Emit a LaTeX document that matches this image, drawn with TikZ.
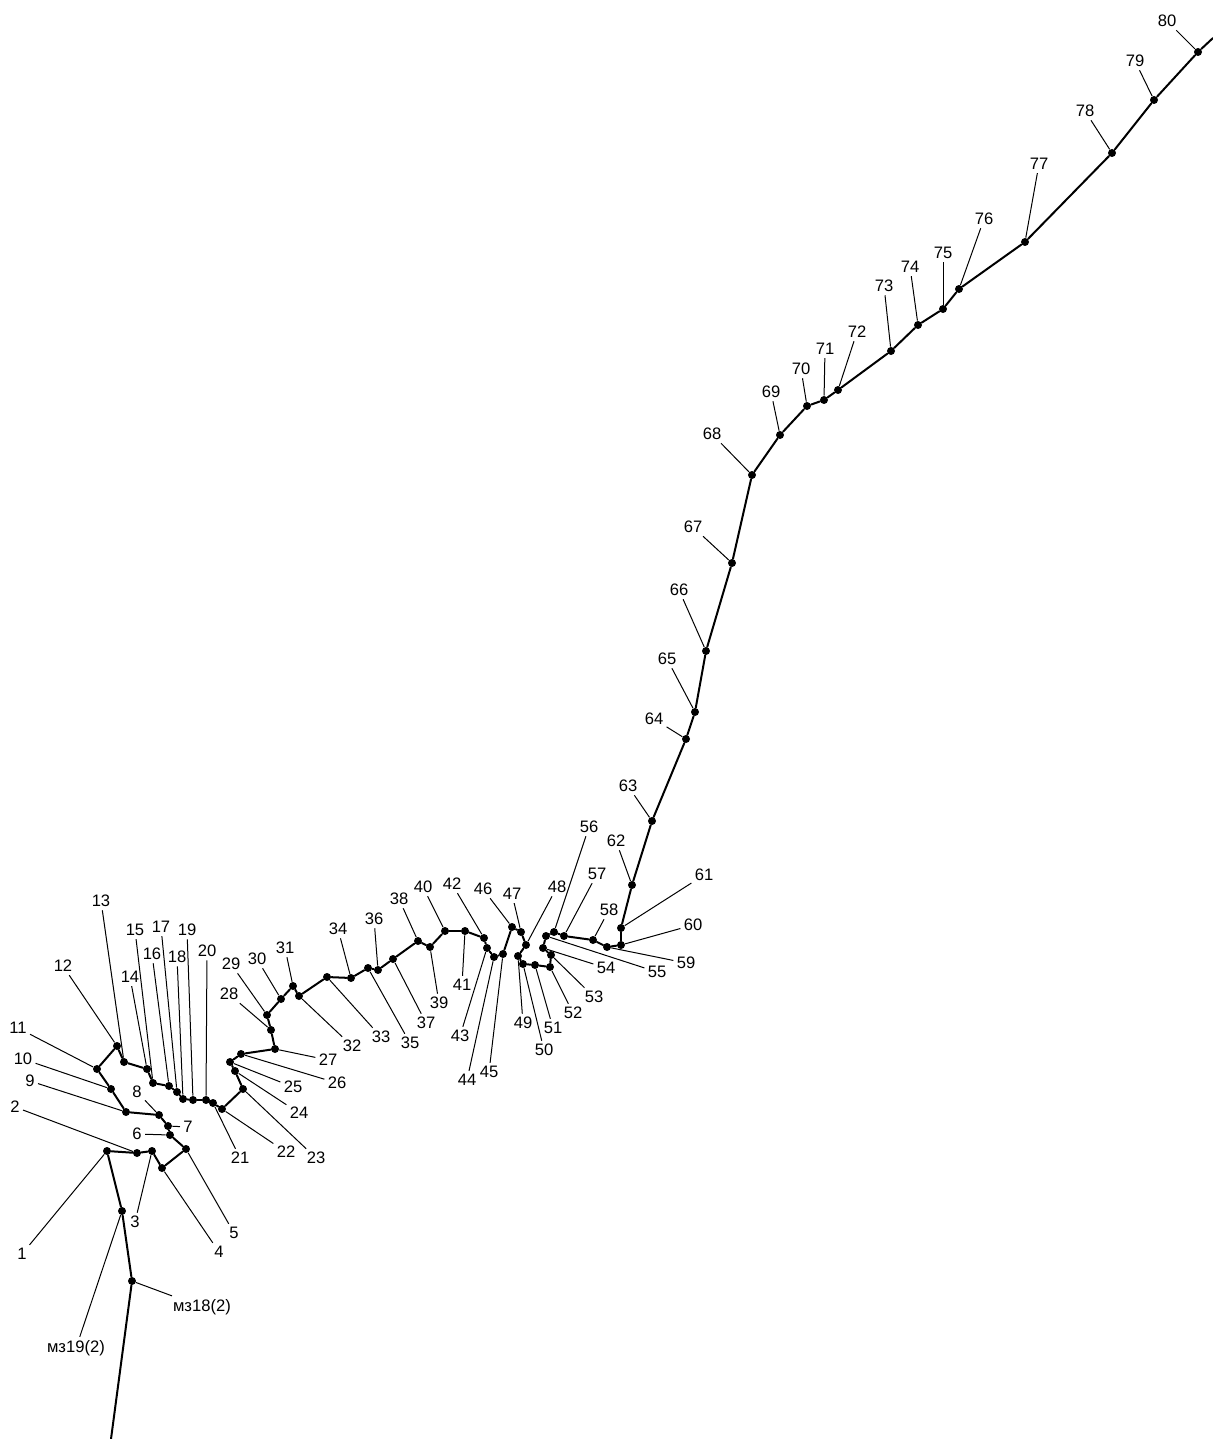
\documentclass[tikz,border=0pt]{standalone}
\usepackage{fontspec}
\setmainfont{Liberation Sans}

\begin{document}
\begin{tikzpicture}[
    x=0.5pt, y=-0.5pt,
    every node/.style={font=\fontsize{8.3}{9.8}\selectfont},
    pnt/.style={circle, fill, inner sep=0pt, minimum size=4pt},
    lb/.style={inner sep=1.5pt},
    tr/.style={line width=1pt, line join=round, line cap=round},
    ld/.style={line width=0.5pt}
]
\useasboundingbox (0,0) rectangle (1213,1439);
% numbered points: n / point x / point y / label x / label y
\foreach \n/\x/\y/\lx/\ly in {
    1/107/1151/22/1254, 2/137/1153/15/1107, 3/152/1151/135/1222,
    4/162/1168/219/1252, 5/186/1149/234/1233, 6/170/1135/137/1134,
    7/168/1126/188/1127, 8/159/1115/137/1092, 9/126/1112/30/1081,
    10/111/1089/23/1059, 11/97/1069/18/1028, 12/117/1046/63/966,
    13/124/1062/101/901, 14/147/1069/130/977, 15/153/1083/135/930,
    16/169/1086/152/954, 17/177/1092/161/927, 18/183/1099/177/957,
    19/193/1100/187/930, 20/206/1100/207/951, 21/213/1103/240/1158,
    22/222/1109/286/1152, 23/243/1089/316/1158, 24/235/1071/299/1113,
    25/230/1062/293/1087, 26/241/1054/337/1083, 27/275/1049/328/1060,
    28/271/1030/229/994, 29/267/1015/231/964, 30/281/999/257/959,
    31/293/986/285/948, 32/299/996/352/1046, 33/327/977/381/1037,
    34/351/978/338/929, 35/368/968/410/1043, 36/378/970/374/919,
    37/393/959/426/1023, 38/418/941/399/899, 39/430/947/439/1003,
    40/445/931/423/887, 41/465/931/462/985, 42/484/938/452/884,
    43/487/948/460/1036, 44/494/957/467/1080, 45/503/954/489/1072,
    46/512/927/483/889, 47/521/932/512/894, 48/526/945/557/887,
    49/518/956/523/1023, 50/523/964/544/1050, 51/535/965/553/1028,
    52/550/967/573/1013, 53/551/955/594/997, 54/543/948/606/968,
    55/546/936/657/972, 56/554/932/589/827, 57/564/936/597/874,
    58/593/940/609/910, 59/607/947/686/963, 60/621/945/693/925,
    61/621/928/704/875, 62/632/885/616/841, 63/652/821/628/786,
    64/686/739/654/719, 65/695/712/667/659, 66/706/651/679/590,
    67/732/563/693/527, 68/752/475/712/434, 69/780/435/771/392,
    70/807/406/801/369, 71/824/400/825/349, 72/838/390/857/332,
    73/891/351/884/286, 74/918/325/910/267, 75/943/309/943/253,
    76/959/289/984/219, 77/1025/242/1039/164, 78/1112/153/1085/111,
    79/1154/100/1135/61, 80/1198/52/1167/21}{
  \node[pnt] (p\n) at (\x,\y) {};
  \node[lb] (l\n) at (\lx,\ly) {\n};
  \draw[ld] (p\n) -- (l\n);
}
\node[pnt] (m19) at (122,1211) {};
\node[pnt] (m18) at (132,1281) {};
\node[lb] (lm19) at (76,1348) {мз19(2)};
\node[lb] (lm18) at (202,1307) {мз18(2)};
\draw[ld] (m19) -- (lm19);
\draw[ld] (m18) -- (lm18);
\coordinate (bot) at (111,1439);
\coordinate (top) at (1213,38);
% traverse
\foreach \i [evaluate=\i as \j using int(\i+1)] in {1,...,79}
  \draw[tr] (p\i) -- (p\j);
\draw[tr] (p1) -- (m19) -- (m18) -- (bot);
\draw[tr] (p80) -- (top);
\end{tikzpicture}
\end{document}
